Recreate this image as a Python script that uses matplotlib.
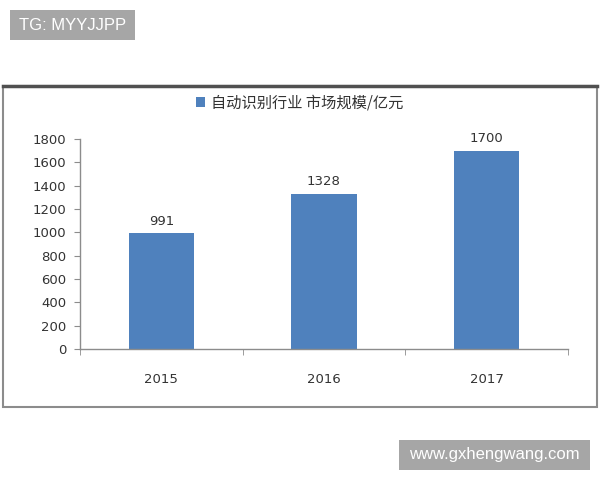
import matplotlib
matplotlib.use("Agg")
import matplotlib.pyplot as plt
from matplotlib.patches import Rectangle
import numpy as np

plt.rcParams['font.family'] = ['DejaVu Sans', 'Noto Sans CJK SC']

# data
years = ["2015", "2016", "2017"]
market_size = [991, 1328, 1700]
legend_label = "自动识别行业 市场规模/亿元"
y_ticks = [0, 200, 400, 600, 800, 1000, 1200, 1400, 1600, 1800]

bar_color = "#4f81bd"
text_color = "#333333"

fig = plt.figure(figsize=(6, 4.8), dpi=100)

def px_rect(x0, y0, x1, y1, **kw):
    # rectangle given in pixel coords (top-left origin)
    r = Rectangle((x0 / 600, 1 - y1 / 480), (x1 - x0) / 600, (y1 - y0) / 480,
                  transform=fig.transFigure, **kw)
    fig.patches.append(r)
    return r

# outer chart frame
px_rect(3, 86, 597, 407, fill=False, edgecolor="#8c8c8c", linewidth=1.5)
fig.add_artist(plt.Line2D([3 / 600, 597 / 600], [1 - 86 / 480, 1 - 86 / 480],
                          transform=fig.transFigure, color="#505050", linewidth=2.5))

ax = fig.add_axes([80 / 600, 1 - 349 / 480, 488 / 600, 210 / 480])
x = np.arange(len(years))
bars = ax.bar(x, market_size, width=0.4, color=bar_color, label=legend_label)

for xi, v in zip(x, market_size):
    ax.text(xi, v + 50, str(v), ha="center", va="bottom", fontsize=9.5, color=text_color)

ax.set_xlim(-0.5, len(years) - 0.5)
ax.set_ylim(0, 1800)
ax.set_yticks(y_ticks)
ax.set_xticks(x)
ax.set_xticklabels(years)
ax.set_xticks(np.arange(-0.5, len(years), 1), minor=True)

for s in ["top", "right"]:
    ax.spines[s].set_visible(False)
for s in ["left", "bottom"]:
    ax.spines[s].set_color("#8c8c8c")
    ax.spines[s].set_linewidth(1)

ax.tick_params(axis="y", colors="#8c8c8c", labelcolor=text_color, labelsize=9.5,
               length=4, pad=6)
ax.tick_params(axis="x", which="major", length=0, pad=17, labelcolor=text_color, labelsize=9.5)
ax.tick_params(axis="x", which="minor", length=4, colors="#8c8c8c")

fig.legend(handles=[bars], labels=[legend_label], loc="center",
           bbox_to_anchor=(0.5, 1 - 103 / 480), frameon=False,
           prop={"family": ["Noto Sans CJK SC"], "size": 11},
           handlelength=0.6, handleheight=0.6, handletextpad=0.4,
           labelcolor=text_color)

# watermarks
px_rect(10, 10, 135, 40, facecolor="#a6a6a6", edgecolor="none")
fig.text(72.5 / 600, 1 - 25 / 480, "TG: MYYJJPP", ha="center", va="center",
         color="white", fontsize=12, family=["Liberation Sans"])
px_rect(399, 440, 590, 470, facecolor="#a6a6a6", edgecolor="none")
fig.text(494.5 / 600, 1 - 455 / 480, "www.gxhengwang.com", ha="center", va="center",
         color="white", fontsize=12, family=["Liberation Sans"])

fig.savefig("out.png", dpi=100)
